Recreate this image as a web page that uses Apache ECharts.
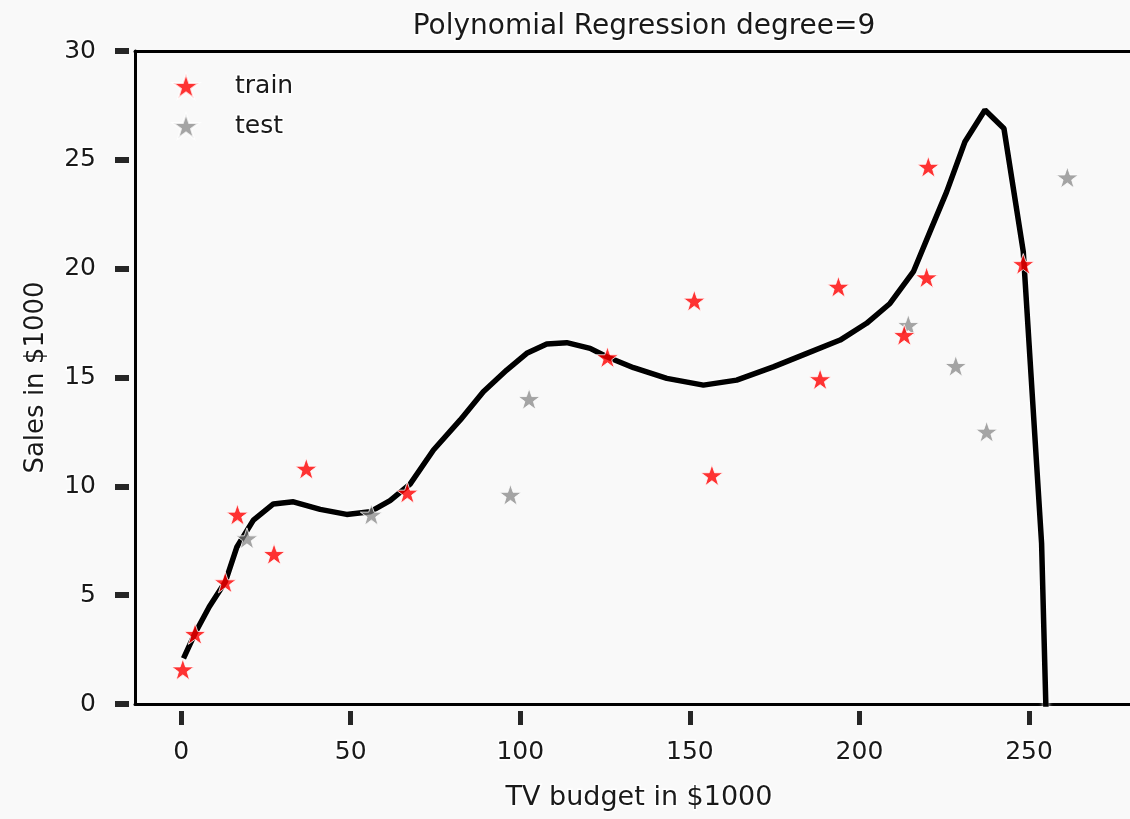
<!DOCTYPE html>
<html>
<head>
<meta charset="utf-8">
<script src="https://cdn.jsdelivr.net/npm/echarts@6/dist/echarts.min.js"></script>
<style>
html,body{margin:0;padding:0;background:#f9f9f9;}
#chart{width:1130px;height:819px;}
</style>
</head>
<body>
<div id="chart"></div>
<script>
// ---- data ----
const titleText = 'Polynomial Regression degree=9';
const xName = 'TV budget in $1000';
const yName = 'Sales in $1000';
const xTicks = [0, 50, 100, 150, 200, 250];
const yTicks = [0, 5, 10, 15, 20, 25, 30];

const trainX = [0.5, 4.1, 13.0, 16.6, 27.4, 36.9, 66.7, 125.7, 151.3, 156.5, 188.4, 193.8, 213.2, 219.8, 220.3, 248.3];
const trainY = [1.59, 3.22, 5.59, 8.70, 6.89, 10.81, 9.71, 15.93, 18.53, 10.51, 14.92, 19.17, 16.95, 19.60, 24.68, 20.21];

const testX = [19.4, 56.1, 97.1, 102.6, 214.4, 228.4, 237.5, 261.3];
const testY = [7.61, 8.70, 9.61, 14.01, 17.41, 15.53, 12.51, 24.19];

const curveX = [0.7, 4.1, 8.3, 13.0, 16.4, 21.3, 27.2, 33.1, 41.0, 48.8, 55.7, 61.6, 67.5, 74.4, 82.3, 89.1, 96.0, 101.9, 107.8, 113.7, 120.6, 125.5, 133.4, 143.2, 154.0, 163.8, 174.6, 184.5, 194.3, 202.1, 209.0, 215.9, 220.8, 225.7, 231.1, 237.0, 242.6, 248.3, 253.7, 259.3];
const curveY = [2.1, 3.25, 4.47, 5.6, 7.2, 8.45, 9.19, 9.29, 8.94, 8.71, 8.83, 9.34, 10.1, 11.67, 13.05, 14.35, 15.34, 16.11, 16.54, 16.6, 16.34, 15.95, 15.45, 14.96, 14.65, 14.88, 15.49, 16.11, 16.72, 17.49, 18.4, 19.86, 21.70, 23.53, 25.83, 27.29, 26.44, 20.78, 7.38, -25.8];

const X_MIN = -13.6, X_MAX = 283.6, Y_MIN = 0, Y_MAX = 30, Y_STEP = 5;

const FONT = '"DejaVu Sans", "Noto Sans", sans-serif';
const STAR = 'path://M50,0 L61.8,35.1 L98.1,35.1 L68.8,56.8 L79.4,91.9 L50,70 L20.6,91.9 L31.2,56.8 L1.9,35.1 L38.2,35.1 Z';

const zip = (a, b) => a.map((v, i) => [v, b[i]]);

const txt = {color: '#1a1a1a', fontFamily: FONT, textBorderColor: '#fff', textBorderWidth: 3};

const chart = echarts.init(document.getElementById('chart'));
chart.setOption({
  backgroundColor: '#f9f9f9',
  animation: false,
  title: {
    text: titleText, left: 639, top: 8, textAlign: 'center',
    textStyle: Object.assign({}, txt, {fontSize: 28, fontWeight: 'normal'})
  },
  legend: {
    orient: 'vertical', left: 172, top: 72, itemWidth: 26, itemHeight: 26, itemGap: 12, padding: 0,
    textStyle: Object.assign({}, txt, {fontSize: 25, padding: [0, 0, 0, 31]}),
    data: ['train', 'test']
  },
  grid: {left: 135, top: 51, width: 1008, height: 653, show: false, outerBoundsMode: 'none', containLabel: false},
  xAxis: [
    {type: 'value', min: X_MIN, max: X_MAX, position: 'bottom',
     axisLine: {show: true, onZero: false, lineStyle: {color: '#000', width: 3}},
     axisTick: {show: false}, axisLabel: {show: false}, splitLine: {show: false}},
    {type: 'value', min: X_MIN, max: X_MAX, position: 'top',
     axisLine: {show: true, onZero: false, lineStyle: {color: '#000', width: 3}},
     axisTick: {show: false}, axisLabel: {show: false}, splitLine: {show: false}},
    {type: 'value', min: X_MIN, max: X_MAX, position: 'bottom', offset: 7,
     axisLine: {show: false, onZero: false},
     axisTick: {show: true, customValues: xTicks, length: 14, lineStyle: {color: '#262626', width: 5}},
     axisLabel: Object.assign({show: true, customValues: xTicks, margin: 29, fontSize: 25}, txt),
     splitLine: {show: false},
     name: xName, nameLocation: 'middle', nameGap: 73,
     nameTextStyle: Object.assign({}, txt, {fontSize: 27})}
  ],
  yAxis: [
    {type: 'value', min: Y_MIN, max: Y_MAX, position: 'left',
     axisLine: {show: true, onZero: false, lineStyle: {color: '#000', width: 3}},
     axisTick: {show: false}, axisLabel: {show: false}, splitLine: {show: false}},
    {type: 'value', min: Y_MIN, max: Y_MAX, interval: Y_STEP, position: 'left', offset: 6,
     axisLine: {show: false, onZero: false},
     axisTick: {show: true, length: 14, lineStyle: {color: '#262626', width: 6}},
     axisLabel: Object.assign({show: true, margin: 33, fontSize: 25}, txt),
     splitLine: {show: false},
     name: yName, nameLocation: 'middle', nameGap: 80, nameRotate: 90,
     nameTextStyle: Object.assign({}, txt, {fontSize: 26})}
  ],
  series: [
    {name: 'fit', type: 'line', data: zip(curveX, curveY), xAxisIndex: 0, yAxisIndex: 0,
     showSymbol: false, symbol: 'none', clip: true, smooth: false,
     lineStyle: {color: '#000', width: 5.5, shadowColor: '#fff', shadowBlur: 4},
     z: 2, silent: true},
    {name: 'test', type: 'scatter', data: zip(testX, testY), xAxisIndex: 0, yAxisIndex: 0,
     symbol: STAR, symbolSize: 22, symbolKeepAspect: true,
     itemStyle: {color: 'rgba(125,125,125,0.85)', borderColor: '#fff', borderWidth: 1},
     z: 3},
    {name: 'train', type: 'scatter', data: zip(trainX, trainY), xAxisIndex: 0, yAxisIndex: 0,
     symbol: STAR, symbolSize: 22, symbolKeepAspect: true,
     itemStyle: {color: '#ff0000', borderColor: '#fff', borderWidth: 1},
     z: 4}
  ]
});
</script>
</body>
</html>
